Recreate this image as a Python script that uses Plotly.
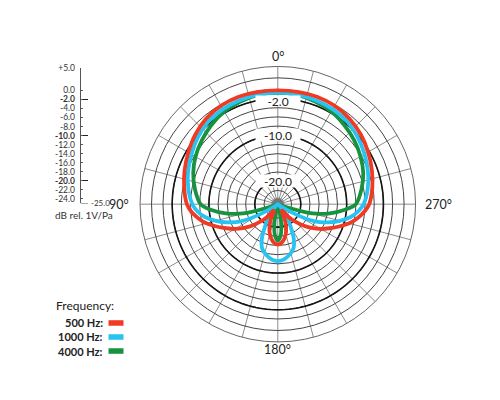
import plotly.graph_objects as go

# polar angle (deg, 0 = on-axis, counter-clockwise so 90 sits on the left)
angles = [0, 10, 20, 30, 40, 50, 60, 70, 80, 90,
          95, 100, 105, 110, 115, 120, 125, 130, 135, 140, 145, 150, 155, 160, 165, 170, 175, 180,
          185, 190, 195, 200, 205, 210, 215, 220, 225, 230, 235, 240, 245, 250, 255, 260, 265,
          270, 280, 290, 300, 310, 320, 330, 340, 350, 360]

db_500 = [-0.2, -0.15, -0.1, -0.25, -0.7, -1.5, -2.5, -3.4, -4.3, -5.2,
          -6.1, -7.4, -8.9, -10.8, -12.6, -14.2, -16.0, -17.8, -19.6, -21.3, -23.3, -23.3, -21.5, -19.7, -18.3, -17.2, -16.5, -16.2,
          -16.5, -17.2, -18.3, -19.7, -21.5, -23.3, -23.3, -21.3, -19.6, -17.8, -16.0, -14.2, -12.6, -10.8, -8.9, -7.4, -6.1,
          -5.1, -4.1, -3.2, -2.3, -1.4, -0.7, -0.25, -0.1, -0.15, -0.2]

db_1000 = [-0.7, -0.75, -0.9, -1.1, -1.5, -2.3, -3.3, -4.2, -5.2, -6.4,
           -7.4, -8.9, -11.0, -13.4, -16.1, -21.0, -24.5, -25.0, -24.5, -22.8, -21.2, -19.5, -16.8, -14.9, -14.0, -13.3, -12.8, -12.6,
           -12.8, -13.3, -14.0, -14.9, -16.8, -19.5, -21.2, -22.8, -24.5, -25.0, -24.5, -21.0, -16.1, -13.4, -11.0, -8.9, -7.4,
           -6.3, -5.1, -4.1, -3.2, -2.3, -1.5, -1.1, -0.9, -0.75, -0.7]

db_4000 = [-0.75, -0.85, -1.2, -1.7, -2.5, -3.4, -4.3, -5.4, -6.7, -8.2,
           -10.5, -13.5, -17.2, -23.5, -25.0, -25.0, -25.0, -25.0, -25.0, -25.0, -25.0, -25.0, -25.0, -25.0, -24.2, -20.8, -18.1, -17.1,
           -18.1, -20.8, -24.2, -25.0, -25.0, -25.0, -25.0, -25.0, -25.0, -25.0, -25.0, -25.0, -25.0, -23.5, -17.2, -13.5, -10.5,
           -8.0, -6.5, -5.2, -4.2, -3.3, -2.5, -1.7, -1.2, -0.85, -0.75]

freq_labels = ['500 Hz:', '1000 Hz:', '4000 Hz:']
freq_colors = ['#ef3b24', '#27c3f2', '#17923f']

ring_vals = [2.5, 0, -2, -4, -6, -8, -10, -12, -14, -16, -18, -20, -22, -24]
bold_rings = [-2, -10, -20]
scale_vals = [5, 0, -2, -4, -6, -8, -10, -12, -14, -16, -18, -20, -22, -24]
angle_labels = ['0°', '90°', '180°', '270°']

# geometry of the chart in pixels (500x400 page)
W, H = 500, 400
cx, cy, rad = 277.8, 201.7, 139.5
px_db = rad / 30.0

def px(x):
    return x / W

def py(y):
    return (H - y) / H

fig = go.Figure()

# thick rings
circ = list(range(0, 361, 2))
for v in bold_rings:
    fig.add_trace(go.Scatterpolar(r=[v] * len(circ), theta=circ, mode='lines',
                                  line=dict(color='#151515', width=1.6),
                                  hoverinfo='skip', showlegend=False))

# dense short spokes around the centre
sp_r, sp_t = [], []
for a in range(0, 360, 5):
    sp_r += [-25, -23.6, None]
    sp_t += [a, a, None]
fig.add_trace(go.Scatterpolar(r=sp_r, theta=sp_t, mode='lines',
                              line=dict(color='#777', width=0.6),
                              hoverinfo='skip', showlegend=False))

series = [(db_4000, freq_colors[2]), (db_1000, freq_colors[1]), (db_500, freq_colors[0])]
for vals, col in series:
    fig.add_trace(go.Scatterpolar(r=vals, theta=angles, mode='lines',
                                  line=dict(color=col, width=3.8, shape='spline', smoothing=0.8),
                                  hoverinfo='skip', showlegend=False))

# dummy trace so the cartesian scale axis gets drawn
fig.add_trace(go.Scatter(x=[None], y=[None], showlegend=False, hoverinfo='skip'))

scale_text = []
for v in scale_vals:
    s = ('+%.1f' % v) if v > 0 else ('%.1f' % v)
    if v in bold_rings:
        s = '<b>' + s + '</b>'
    scale_text.append(s)

annos = []
# angle labels
ang_pos = [(cx, 52, 'center'), (131, cy, 'right'), (cx, 349, 'center'), (423, cy, 'left')]
for txt, (x, y, anc) in zip(angle_labels, ang_pos):
    annos.append(dict(text=txt, x=px(x), y=py(y), xref='paper', yref='paper', showarrow=False,
                      xanchor=anc, yanchor='middle', font=dict(size=12.5, color='#222')))

# ring labels on the 0 deg spoke (white box breaks the ring)
for v, h, dy in zip(bold_rings, [10, 12, 12], [2.5, 0, 0]):
    annos.append(dict(text='%.1f' % v, x=px(cx), y=py(cy - (v + 25) * px_db + dy), xref='paper', yref='paper',
                      showarrow=False, xanchor='center', yanchor='middle', bgcolor='white',
                      width=44, height=h, borderpad=0, font=dict(size=12, color='#222')))

annos.append(dict(text='-25.0', x=px(88.5), y=-25, xref='paper', yref='y', showarrow=False,
                  xanchor='left', yanchor='middle', font=dict(size=8, color='#333')))
annos.append(dict(text='dB rel. 1V/Pa', x=px(53), y=py(213), xref='paper', yref='paper', showarrow=False,
                  xanchor='left', yanchor='middle', font=dict(size=10, color='#333')))
annos.append(dict(text='Frequency:', x=px(54), y=py(304), xref='paper', yref='paper', showarrow=False,
                  xanchor='left', yanchor='middle', font=dict(size=12, color='#222')))

shapes = [dict(type='line', xref='paper', yref='y', x0=px(80.7), x1=px(88), y0=-25, y1=-25,
               line=dict(color='#555', width=1))]
for i, (lab, col) in enumerate(zip(freq_labels, freq_colors)):
    yy = 322 + i * 14.2
    annos.append(dict(text='<b>' + lab + '</b>', x=px(105), y=py(yy), xref='paper', yref='paper',
                      showarrow=False, xanchor='right', yanchor='middle',
                      font=dict(size=11, color='#222')))
    shapes.append(dict(type='rect', xref='paper', yref='paper', x0=px(108.5), x1=px(123.5),
                       y0=py(yy + 2.8), y1=py(yy - 2.8), line=dict(width=0), fillcolor=col))

fig.update_layout(
    width=W, height=H,
    margin=dict(l=0, r=0, t=0, b=0),
    paper_bgcolor='white', plot_bgcolor='white',
    font=dict(family='Lato, Open Sans, sans-serif'),
    showlegend=False,
    polar=dict(
        domain=dict(x=[px(cx - rad), px(cx + rad)], y=[py(cy + rad), py(cy - rad)]),
        bgcolor='white',
        angularaxis=dict(rotation=90, direction='counterclockwise', tickmode='array',
                         tickvals=list(range(0, 360, 15)), showticklabels=False, ticks='',
                         showline=True, linecolor='#666', linewidth=1,
                         gridcolor='#8c8c8c', gridwidth=0.7, layer='below traces'),
        radialaxis=dict(range=[-25, 5], tickmode='array', tickvals=ring_vals,
                        showticklabels=False, ticks='', showline=False,
                        gridcolor='#444', gridwidth=0.7, layer='below traces'),
    ),
    xaxis=dict(domain=[px(80.7), px(120)], range=[0, 1], visible=False, fixedrange=True),
    yaxis=dict(domain=[py(201), py(63.5)], range=[-25, 5], tickmode='array',
               tickvals=scale_vals, ticktext=scale_text, ticks='inside', ticklen=2.5,
               tickcolor='#555', tickwidth=1, showline=True, linecolor='#555', linewidth=1,
               showgrid=False, zeroline=False, tickfont=dict(size=8.5, color='#333'),
               ticklabelstandoff=3,
               minor=dict(tickmode='array', tickvals=bold_rings, ticks='inside', ticklen=7,
                          tickcolor='#222', tickwidth=1.4, showgrid=False),
               fixedrange=True),
    annotations=annos,
    shapes=shapes,
)

# the page body has a default margin; drop it so the figure sits at the window corner
fig.write_html("out.html", config={'displayModeBar': False},
               post_script="document.body.style.margin='0';")
